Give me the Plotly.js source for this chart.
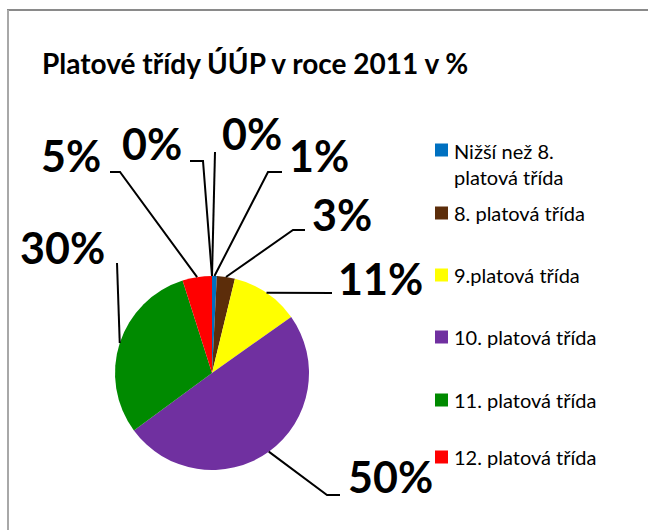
<!DOCTYPE html>
<html>
<head>
<meta charset="utf-8">
<script src="https://cdn.plot.ly/plotly-3.0.1.min.js"></script>
<style>html,body{margin:0;padding:0;background:#fff;}#chart{width:648px;height:530px;}</style>
</head>
<body>
<div id="chart"></div>
<script>
// ---- data ----
const categories = ["Nižší než 8. platová třída", "8. platová třída", "9.platová třída",
                    "10. platová třída", "11. platová třída", "12. platová třída",
                    "13. platová třída", "14. platová třída"];
const legendLabels = ["Nižší než 8.<br>platová třída", "8. platová třída", "9.platová třída",
                      "10. platová třída", "11. platová třída", "12. platová třída"];
const shares = [0.8, 3.0, 11.4, 49.7, 30.2, 4.9, 0, 0];
const sliceColors = ["#0070C0", "#5C2D0A", "#FFFF00", "#7030A0", "#008A00", "#FF0000", "#4BACC6", "#F79646"];
const titleText = "Platové třídy ÚÚP v roce 2011 v %";

// ---- geometry ----
const W = 648, H = 530;
const CX = 212, CY = 373, R = 97;
const px = x => x / W;
const py = y => 1 - y / H;

const total = shares.reduce((a, b) => a + b, 0);
const pctText = shares.map(v => Math.round(v / total * 100) + "%");
// edge point of each slice at its middle angle (clockwise from 12 o'clock)
let cum = 0;
const edge = shares.map(v => {
  const mid = (cum + v / 2) / total; cum += v;
  const th = 2 * Math.PI * mid;
  return [CX + R * Math.sin(th), CY - R * Math.cos(th)];
});

// label placement: text center and leader elbow points
const place = [
  {i: 0, tx: 319, ty: 156, pts: [[268, 172], [282, 172]]},
  {i: 1, tx: 342, ty: 214, pts: [[293, 230], [305, 230]]},
  {i: 2, tx: 381, ty: 278, pts: [[332, 293]]},
  {i: 3, tx: 390, ty: 476, pts: [[327, 495], [340, 495]]},
  {i: 4, tx: 62, ty: 247, pts: [[117, 263]]},
  {i: 5, tx: 71, ty: 155, pts: [[120, 172], [110, 172]]},
  {i: 6, tx: 152, ty: 144, pts: [[203, 161], [190, 161]]},
  {i: 7, tx: 252, ty: 134, pts: [[215, 152]]}
];

const annotations = [];
const shapes = [];

// frame
shapes.push({type: "line", xref: "paper", yref: "paper", x0: px(7), x1: px(648), y0: py(10), y1: py(10),
  line: {color: "#8a8a8a", width: 2}});
shapes.push({type: "line", xref: "paper", yref: "paper", x0: px(8), x1: px(8), y0: py(10), y1: py(530),
  line: {color: "#a8a8a8", width: 2}});

// title
annotations.push({text: "<b>" + titleText + "</b>", xref: "paper", yref: "paper", x: px(255), y: py(63),
  xanchor: "center", yanchor: "middle", showarrow: false,
  font: {family: "Lato, 'Open Sans', sans-serif", size: 28, color: "#000"}});

// data labels + leader lines
place.forEach(p => {
  annotations.push({text: "<b>" + pctText[p.i] + "</b>", xref: "paper", yref: "paper",
    x: px(p.tx), y: py(p.ty), xanchor: "center", yanchor: "middle", showarrow: false,
    font: {family: "Lato, 'Open Sans', sans-serif", size: 43, color: "#000"}});
  const e = edge[p.i];
  let path = "M " + px(e[0]) + " " + py(e[1]);
  p.pts.forEach(q => { path += " L " + px(q[0]) + " " + py(q[1]); });
  shapes.push({type: "path", xref: "paper", yref: "paper", path: path,
    line: {color: "#000", width: 2}});
});

// legend (only first six categories shown in the original)
const legendY = [150, 213, 275, 337, 400, 457];
legendLabels.forEach((lab, k) => {
  const y = legendY[k];
  shapes.push({type: "rect", xref: "paper", yref: "paper",
    x0: px(435), x1: px(448), y0: py(y - 6.5), y1: py(y + 6.5),
    fillcolor: sliceColors[k], line: {width: 0}});
  const twoLine = lab.indexOf("<br>") >= 0;
  annotations.push({text: lab, xref: "paper", yref: "paper", x: px(452),
    y: twoLine ? py(y - 13) : py(y), xanchor: "left", yanchor: twoLine ? "top" : "middle",
    align: "left", showarrow: false,
    font: {family: "Lato, 'Open Sans', sans-serif", size: 20, color: "#000"}});
});

const data = [{
  type: "pie",
  labels: categories,
  values: shares,
  marker: {colors: sliceColors, line: {width: 0}},
  sort: false,
  direction: "clockwise",
  rotation: 0,
  textinfo: "none",
  hoverinfo: "skip",
  showlegend: false,
  domain: {x: [px(CX - R), px(CX + R)], y: [py(CY + R), py(CY - R)]}
}];

const layout = {
  width: W, height: H,
  margin: {l: 0, r: 0, t: 0, b: 0},
  paper_bgcolor: "#fff",
  showlegend: false,
  annotations: annotations,
  shapes: shapes
};

Plotly.newPlot("chart", data, layout, {displayModeBar: false, staticPlot: true});
</script>
</body>
</html>
